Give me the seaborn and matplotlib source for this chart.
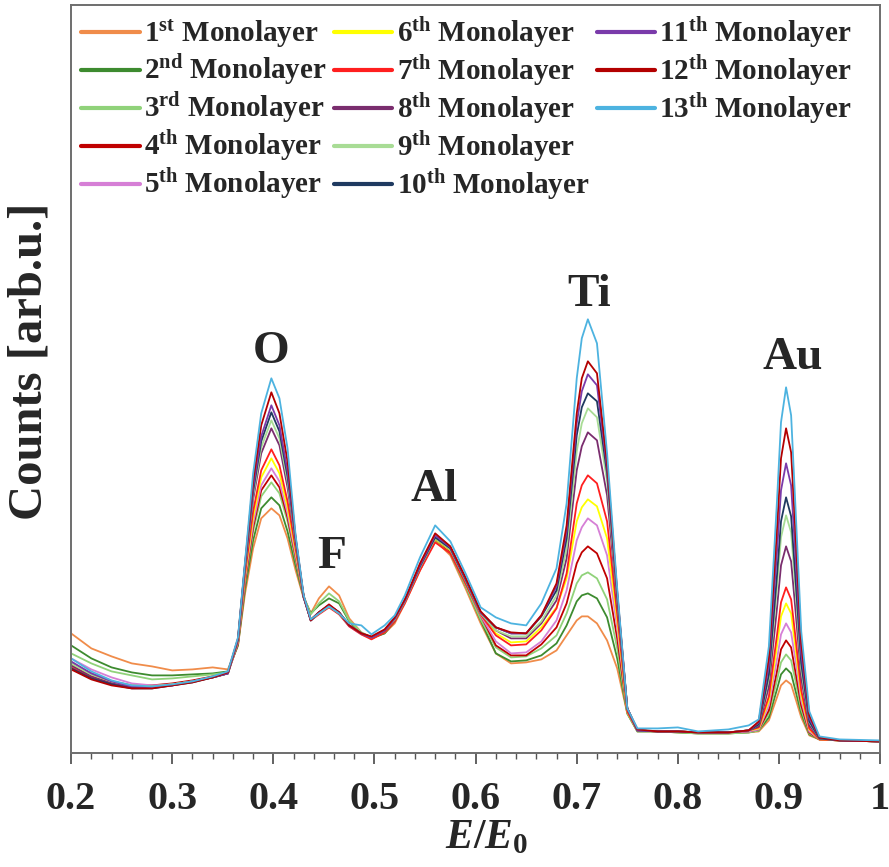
import matplotlib
matplotlib.use("Agg")
import matplotlib.pyplot as plt
from matplotlib.lines import Line2D
from matplotlib.ticker import MultipleLocator
import pandas as pd
import seaborn as sns

# energy grid (E/E0), shared by all curves
energy = [0.20, 0.22, 0.24, 0.26, 0.28, 0.30, 0.32, 0.34,
          0.355, 0.365, 0.372, 0.38, 0.388, 0.398, 0.406, 0.414, 0.422, 0.43, 0.437,
          0.445, 0.455, 0.465, 0.475, 0.487, 0.497, 0.51, 0.52, 0.53, 0.545, 0.56, 0.575, 0.59, 0.605,
          0.62, 0.635, 0.65, 0.665, 0.68, 0.69, 0.70, 0.705, 0.711, 0.72, 0.73, 0.74, 0.75, 0.76,
          0.78, 0.80, 0.82, 0.85, 0.87,
          0.88, 0.89, 0.898, 0.902, 0.907, 0.912, 0.916, 0.922, 0.93, 0.94,
          0.96, 1.00]

# counts [arb.u.] per monolayer
ml_1 = [120, 105, 97, 90, 87, 83, 84, 86,
        84, 108, 160, 205, 235, 245, 238, 215, 183, 155, 140,
        155, 167, 158, 135, 121, 116, 120, 130, 150, 183, 213, 198, 165, 130,
        100, 90, 91, 94, 103, 118, 133, 137, 137, 130, 113, 85, 40, 22,
        22, 21, 20, 20, 21,
        22, 33, 56, 68, 73, 69, 56, 36, 18, 14,
        13, 12]
ml_2 = [108, 95, 86, 81, 78, 78, 79, 80,
        82, 108, 165, 213, 245, 256, 248, 222, 188, 156, 140,
        148, 155, 150, 132, 120, 115, 120, 132, 152, 185, 215, 200, 168, 133,
        100, 92, 93, 98, 110, 128, 152, 158, 160, 155, 136, 95, 40, 22,
        22, 21, 20, 20, 21,
        23, 36, 64, 79, 85, 80, 64, 40, 19, 14,
        13, 12]
ml_3 = [100, 90, 82, 78, 74, 75, 77, 79,
        81, 110, 170, 222, 257, 271, 260, 232, 193, 157, 139,
        150, 160, 152, 133, 121, 116, 121, 133, 152, 185, 213, 200, 168, 134,
        106, 96, 97, 105, 118, 140, 170, 178, 181, 175, 154, 105, 40, 22,
        22, 21, 20, 20, 21,
        23, 40, 73, 91, 99, 93, 74, 44, 20, 14,
        13, 12]
ml_4 = [90, 80, 72, 68, 68, 70, 73, 77,
        80, 110, 172, 226, 263, 278, 266, 236, 196, 157, 134,
        141, 148, 141, 128, 120, 116, 122, 134, 152, 186, 214, 202, 171, 138,
        108, 98, 98, 109, 126, 150, 190, 201, 207, 200, 175, 115, 42, 23,
        22, 22, 21, 21, 22,
        24, 43, 82, 104, 113, 106, 83, 48, 21, 14,
        13, 12]
ml_5 = [95, 84, 76, 70, 68, 69, 72, 76,
        80, 111, 175, 230, 268, 285, 272, 240, 198, 157, 134,
        140, 147, 140, 127, 119, 115, 122, 134, 152, 186, 216, 203, 171, 138,
        112, 100, 101, 112, 133, 163, 213, 226, 235, 228, 198, 125, 42, 23,
        22, 22, 21, 21, 22,
        24, 48, 94, 119, 130, 121, 95, 53, 22, 14,
        13, 12]
ml_6 = [88, 78, 71, 67, 67, 69, 72, 76,
        80, 112, 178, 236, 276, 295, 280, 246, 202, 157, 134,
        140, 147, 140, 128, 120, 116, 122, 134, 152, 186, 214, 203, 172, 139,
        120, 111, 112, 126, 146, 175, 232, 246, 254, 247, 215, 133, 42, 23,
        22, 22, 21, 21, 23,
        25, 53, 107, 137, 150, 140, 108, 58, 24, 14,
        13, 12]
ml_7 = [86, 76, 70, 66, 67, 69, 72, 76,
        80, 112, 180, 242, 283, 304, 288, 252, 205, 157, 133,
        139, 146, 139, 127, 119, 114, 121, 132, 150, 183, 211, 200, 170, 139,
        118, 108, 109, 123, 145, 180, 250, 268, 278, 270, 232, 140, 42, 23,
        22, 22, 21, 21, 23,
        26, 57, 118, 151, 166, 154, 119, 63, 25, 14,
        13, 12]
ml_8 = [88, 77, 70, 66, 66, 68, 72, 76,
        80, 113, 185, 254, 300, 325, 308, 266, 210, 156, 133,
        140, 147, 140, 128, 120, 116, 123, 134, 152, 186, 215, 204, 173, 140,
        123, 115, 115, 130, 153, 195, 283, 307, 321, 313, 258, 150, 45, 23,
        22, 22, 21, 21, 23,
        27, 67, 145, 188, 207, 192, 147, 75, 28, 15,
        13, 12]
ml_9 = [90, 79, 72, 68, 67, 69, 72, 76,
        80, 113, 186, 258, 306, 333, 315, 272, 212, 156, 133,
        140, 147, 140, 128, 120, 116, 123, 134, 152, 186, 215, 204, 173, 140,
        123, 117, 117, 132, 158, 205, 302, 330, 345, 336, 272, 155, 45, 23,
        22, 22, 21, 21, 23,
        29, 75, 166, 216, 238, 221, 168, 84, 31, 15,
        13, 12]
ml_10 = [85, 75, 69, 65, 65, 68, 71, 76,
         80, 114, 188, 262, 312, 341, 322, 277, 214, 156, 133,
         141, 148, 141, 128, 120, 116, 123, 135, 153, 187, 216, 205, 174, 141,
         126, 120, 120, 137, 163, 215, 318, 346, 360, 352, 280, 158, 45, 23,
         22, 22, 21, 21, 23,
         29, 79, 178, 232, 256, 237, 180, 90, 32, 15,
         13, 12]
ml_11 = [92, 80, 72, 67, 66, 68, 72, 76,
         80, 114, 189, 266, 317, 348, 328, 282, 215, 156, 133,
         141, 148, 141, 128, 120, 116, 123, 135, 153, 188, 218, 206, 175, 141,
         126, 120, 120, 138, 167, 222, 330, 362, 379, 368, 285, 160, 45, 23,
         22, 22, 21, 21, 23,
         31, 88, 201, 263, 290, 268, 202, 100, 35, 16,
         13, 12]
ml_12 = [84, 74, 68, 65, 65, 68, 71, 76,
         81, 115, 190, 272, 328, 361, 340, 292, 216, 157, 133,
         141, 149, 141, 128, 120, 117, 124, 136, 154, 190, 220, 207, 176, 142,
         126, 121, 120, 138, 170, 228, 340, 375, 392, 380, 290, 162, 45, 24,
         22, 22, 21, 21, 23,
         32, 96, 224, 295, 325, 301, 226, 110, 38, 16,
         13, 12]
ml_13 = [95, 82, 73, 68, 67, 69, 72, 77,
         82, 116, 192, 280, 340, 375, 355, 305, 218, 158, 134,
         140, 147, 140, 130, 128, 119, 128, 138, 158, 196, 228, 212, 180, 146,
         136, 130, 128, 150, 185, 250, 375, 415, 434, 410, 300, 165, 45, 25,
         25, 26, 22, 24, 28,
         34, 107, 252, 331, 366, 338, 253, 122, 42, 17,
         14, 13]

layers = [ml_1, ml_2, ml_3, ml_4, ml_5, ml_6, ml_7, ml_8, ml_9, ml_10, ml_11, ml_12, ml_13]
suffixes = ["st", "nd", "rd", "th", "th", "th", "th", "th", "th", "th", "th", "th", "th"]
labels = [str(i + 1) + r"$^{\mathrm{" + s + "}}$ Monolayer" for i, s in enumerate(suffixes)]
colors = ["#F08C4A", "#3D8B2F", "#90D27A", "#C00000", "#D67FD6", "#FFFF00", "#FF1F1F",
          "#7A2D6E", "#A8DC95", "#1F3A60", "#7A3BAA", "#B30000", "#4DB3E0"]

tick_vals = [0.2, 0.3, 0.4, 0.5, 0.6, 0.7, 0.8, 0.9, 1.0]
tick_labels = ["0.2", "0.3", "0.4", "0.5", "0.6", "0.7", "0.8", "0.9", "1"]

peak_names = ["O", "F", "Al", "Ti", "Au"]

# long form table for seaborn
rows = []
for lab, vals in zip(labels, layers):
    for e, c in zip(energy, vals):
        rows.append({"E": e, "counts": c, "layer": lab})
df = pd.DataFrame(rows)

sns.set_style("white")
plt.rcParams['font.family'] = ['Liberation Serif', 'DejaVu Serif']
plt.rcParams['font.weight'] = 'bold'
plt.rcParams['mathtext.fontset'] = 'custom'
plt.rcParams['mathtext.rm'] = 'Liberation Serif:bold'
plt.rcParams['mathtext.bf'] = 'Liberation Serif:bold'
plt.rcParams['mathtext.it'] = 'Liberation Serif:italic:bold'

fig = plt.figure(figsize=(8.89, 8.67), dpi=100)
ax = fig.add_axes([0.080, 0.131, 0.910, 0.863])

sns.lineplot(data=df, x="E", y="counts", hue="layer", hue_order=labels,
             palette=colors, linewidth=1.3, legend=False, sort=False, ax=ax)

ax.set_xlim(0.2, 1.0)
ax.set_ylim(0, 748)
ax.set_yticks([])
ax.set_xticks(tick_vals)
ax.set_xticklabels(tick_labels, fontsize=29, fontweight='bold')
ax.xaxis.set_minor_locator(MultipleLocator(0.02))
ax.tick_params(axis='x', which='major', bottom=True, direction='out', length=8,
               width=1.3, color='#555555', pad=12)
ax.tick_params(axis='x', which='minor', bottom=True, direction='out', length=4,
               width=1.0, color='#555555')
for s in ax.spines.values():
    s.set_color('#6e6e6e')
    s.set_linewidth(1.4)

ax.set_xlabel(r"$E/E_{\mathit{0}}$", fontsize=30)
ax.xaxis.set_label_coords(0.513, -0.088)
ax.set_ylabel("Counts [arb.u.]", fontsize=35, fontweight='bold')
ax.yaxis.set_label_coords(-0.024, 0.524)

# peak annotations
for name, px, py in zip(peak_names, [0.398, 0.458, 0.559, 0.712, 0.914],
                        [401, 196, 263, 458, 395]):
    ax.text(px, py, name, fontsize=34, fontweight='bold', ha='center', va='center')

# legend: columns of 5, 5 and 3 entries (two empty slots fill the last column)
handles = [Line2D([0], [0], color=c, lw=3) for c in colors]
handles += [Line2D([0], [0], color='none')] * 2
leg_labels = labels + ["", ""]
ax.legend(handles, leg_labels, ncol=3, loc='upper left', bbox_to_anchor=(0.0, 1.0),
          frameon=False, prop={'family': 'Liberation Serif', 'weight': 'bold', 'size': 21},
          handlelength=2.0, handletextpad=0.15, columnspacing=0.25, labelspacing=0.1,
          borderaxespad=0.1, borderpad=0.25)

fig.savefig("out.png", dpi=100)
